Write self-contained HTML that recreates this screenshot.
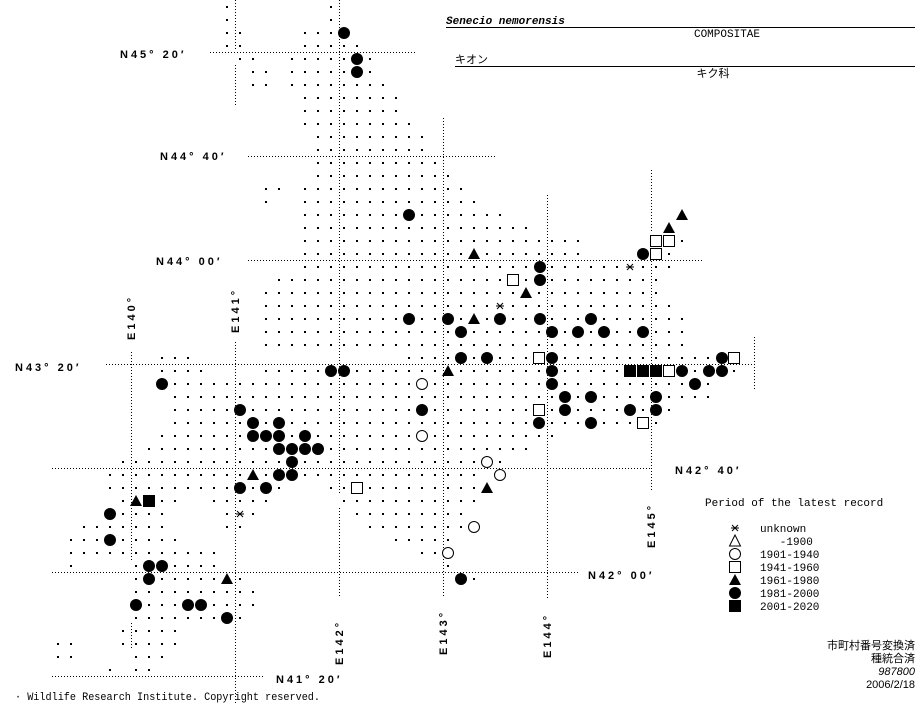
<!DOCTYPE html>
<html><head><meta charset="utf-8"><style>
body{margin:0;background:#fff;width:923px;height:703px;overflow:hidden}
svg{display:block}
.lb{font-family:"Liberation Sans",sans-serif;font-weight:bold;font-size:11px;letter-spacing:3px}
.m{font-family:"Liberation Mono",monospace;font-size:11px}
.j{font-family:"Liberation Sans","Noto Sans CJK JP",sans-serif;font-size:11px}
</style></head><body>
<svg id="s" width="923" height="703" xmlns="http://www.w3.org/2000/svg">
<g stroke="#000" stroke-width="1" stroke-dasharray="1,2" fill="none">
<line x1="210" y1="52.5" x2="417" y2="52.5"/><line x1="248" y1="156.5" x2="495" y2="156.5"/>
<line x1="248" y1="260.5" x2="703" y2="260.5"/><line x1="106" y1="364.5" x2="755" y2="364.5"/>
<line x1="52" y1="468.5" x2="650" y2="468.5"/><line x1="52" y1="572.5" x2="578" y2="572.5"/>
<line x1="52" y1="676.5" x2="265" y2="676.5"/>
<line x1="131.5" y1="352" x2="131.5" y2="560"/><line x1="131.5" y1="623" x2="131.5" y2="650"/>
<line x1="235.5" y1="0" x2="235.5" y2="50"/><line x1="235.5" y1="65" x2="235.5" y2="105"/><line x1="235.5" y1="342" x2="235.5" y2="703"/>
<line x1="339.5" y1="0" x2="339.5" y2="495"/><line x1="339.5" y1="508" x2="339.5" y2="598"/>
<line x1="443.5" y1="118" x2="443.5" y2="598"/><line x1="547.5" y1="195" x2="547.5" y2="598"/>
<line x1="651.5" y1="170" x2="651.5" y2="233"/><line x1="651.5" y1="243" x2="651.5" y2="490"/>
<line x1="754.5" y1="337" x2="754.5" y2="390"/>
</g>
<g id="dots" fill="#000"></g>
<g id="mk"></g>
<text x="446" y="24" font-family="Liberation Mono,monospace" font-style="italic" font-weight="bold" font-size="11">Senecio nemorensis</text>
<line x1="446" y1="27.5" x2="915" y2="27.5" stroke="#000"/>
<text x="727" y="37" class="m" text-anchor="middle">COMPOSITAE</text>
<text x="455" y="63" class="j" font-size="12">キオン</text>
<line x1="455" y1="66.5" x2="915" y2="66.5" stroke="#000"/>
<text x="713" y="77" class="j" text-anchor="middle">キク科</text>
<text x="120" y="58" class="lb">N45° 20′</text>
<text x="160" y="160" class="lb">N44° 40′</text>
<text x="156" y="265" class="lb">N44° 00′</text>
<text x="15" y="371" class="lb">N43° 20′</text>
<text x="675" y="474" class="lb">N42° 40′</text>
<text x="588" y="579" class="lb">N42° 00′</text>
<text x="276" y="683" class="lb">N41° 20′</text>
<text class="lb" transform="translate(135,340) rotate(-90)">E140°</text>
<text class="lb" transform="translate(239,333) rotate(-90)">E141°</text>
<text class="lb" transform="translate(343,665) rotate(-90)">E142°</text>
<text class="lb" transform="translate(447,655) rotate(-90)">E143°</text>
<text class="lb" transform="translate(551,658) rotate(-90)">E144°</text>
<text class="lb" transform="translate(655,548) rotate(-90)">E145°</text>
<text x="705" y="506" class="m">Period of the latest record</text>
<g class="m"><text x="760" y="532">unknown</text><text x="760" y="545" xml:space="preserve">   -1900</text><text x="760" y="558">1901-1940</text><text x="760" y="571">1941-1960</text><text x="760" y="584">1961-1980</text><text x="760" y="597">1981-2000</text><text x="760" y="610">2001-2020</text></g>
<polygon points="735,535 729.5,546 740.5,546" fill="#fff" stroke="#000"/>
<g class="j" text-anchor="end"><text x="915" y="649">市町村番号変換済</text><text x="915" y="662">種統合済</text><text x="915" y="675" font-style="italic">987800</text><text x="915" y="688">2006/2/18</text></g>
<text x="15" y="700" class="m" textLength="305" lengthAdjust="spacingAndGlyphs">·  Wildlife Research Institute. Copyright reserved.</text>
</svg>
<script>
var R={0:[[17,17],[25,25]],1:[[17,17],[25,25]],2:[[17,18],[23,25]],3:[[17,18],[23,27]],4:[[18,19],[22,28]],5:[[19,20],[22,28]],6:[[19,20],[22,29]],7:[[23,30]],8:[[23,30]],9:[[23,31]],10:[[24,32]],11:[[24,32]],12:[[24,33]],13:[[24,34]],14:[[20,21],[23,35]],15:[[20,20],[23,36]],16:[[23,38]],17:[[23,40]],18:[[23,44],[50,52]],19:[[23,44],[49,51]],20:[[23,51]],21:[[21,50]],22:[[20,50]],23:[[20,51]],24:[[20,52]],25:[[20,52]],26:[[20,52]],27:[[12,14],[31,55]],28:[[12,15],[20,56]],29:[[12,54]],30:[[13,54]],31:[[13,51]],32:[[13,50]],33:[[12,42]],34:[[11,40]],35:[[9,38]],36:[[8,36]],37:[[8,21],[25,36]],38:[[9,13],[16,20],[26,36]],39:[[9,12],[17,19],[27,35]],40:[[6,12],[17,18],[28,35]],41:[[5,13],[30,34]],42:[[5,16],[32,34]],43:[[5,5],[10,16],[34,34]],44:[[10,18],[35,36]],45:[[10,19]],46:[[10,19]],47:[[10,18]],48:[[9,13]],49:[[4,5],[9,13]],50:[[4,5],[10,12]],51:[[8,8],[10,11]]};
var d=document.getElementById('dots'),h='';
for(var j in R){R[j].forEach(function(r){for(var i=r[0];i<=r[1];i++)h+='<rect x="'+(5+13*i)+'" y="'+(6+13*j)+'" width="2" height="2"/>';});}
d.innerHTML=h;
var M={F:[[344,33],[357,59],[357,72],[409,215],[643,254],[540,267],[540,280],[409,319],[448,319],[500,319],[540,319],[591,319],[461,332],[552,332],[578,332],[604,332],[643,332],[461,358],[487,358],[552,358],[722,358],[331,371],[344,371],[552,371],[682,371],[709,371],[722,371],[162,384],[552,384],[695,384],[565,397],[591,397],[656,397],[240,410],[422,410],[565,410],[630,410],[656,410],[253,423],[279,423],[539,423],[591,423],[253,436],[266,436],[279,436],[305,436],[279,449],[292,449],[305,449],[318,449],[292,462],[279,475],[292,475],[240,488],[266,488],[110,514],[110,540],[149,566],[162,566],[149,579],[461,579],[136,605],[188,605],[201,605],[227,618],[735,593]],
O:[[422,384],[422,436],[487,462],[500,475],[474,527],[448,553],[735,554]],
S:[[656,241],[669,241],[656,254],[513,280],[539,358],[734,358],[669,371],[539,410],[643,423],[357,488],[735,567]],
Q:[[630,371],[643,371],[656,371],[149,501],[735,606]],
T:[[682,215],[669,228],[474,254],[526,293],[474,319],[448,371],[253,475],[487,488],[136,501],[227,579],[735,580]],
A:[[630,267],[500,306],[240,514],[735,528]]};
var g='';
M.F.forEach(function(p){g+='<circle cx="'+p[0]+'" cy="'+p[1]+'" r="6" fill="#000"/>';});
M.O.forEach(function(p){g+='<circle cx="'+p[0]+'" cy="'+p[1]+'" r="5.5" fill="#fff" stroke="#000"/>';});
M.S.forEach(function(p){g+='<rect x="'+(p[0]-5.5)+'" y="'+(p[1]-5.5)+'" width="11" height="11" fill="#fff" stroke="#000"/>';});
M.Q.forEach(function(p){g+='<rect x="'+(p[0]-6)+'" y="'+(p[1]-6)+'" width="12" height="12" fill="#000"/>';});
M.T.forEach(function(p){g+='<polygon points="'+p[0]+','+(p[1]-6)+' '+(p[0]-6)+','+(p[1]+5)+' '+(p[0]+6)+','+(p[1]+5)+'" fill="#000"/>';});
M.A.forEach(function(p){var x=p[0],y=p[1];g+='<g stroke="#000"><line x1="'+(x-4)+'" y1="'+y+'" x2="'+(x+4)+'" y2="'+y+'"/><line x1="'+(x-3)+'" y1="'+(y-3)+'" x2="'+(x+3)+'" y2="'+(y+3)+'"/><line x1="'+(x-3)+'" y1="'+(y+3)+'" x2="'+(x+3)+'" y2="'+(y-3)+'"/></g>';});
document.getElementById('mk').innerHTML=g;
</script>
</body></html>
